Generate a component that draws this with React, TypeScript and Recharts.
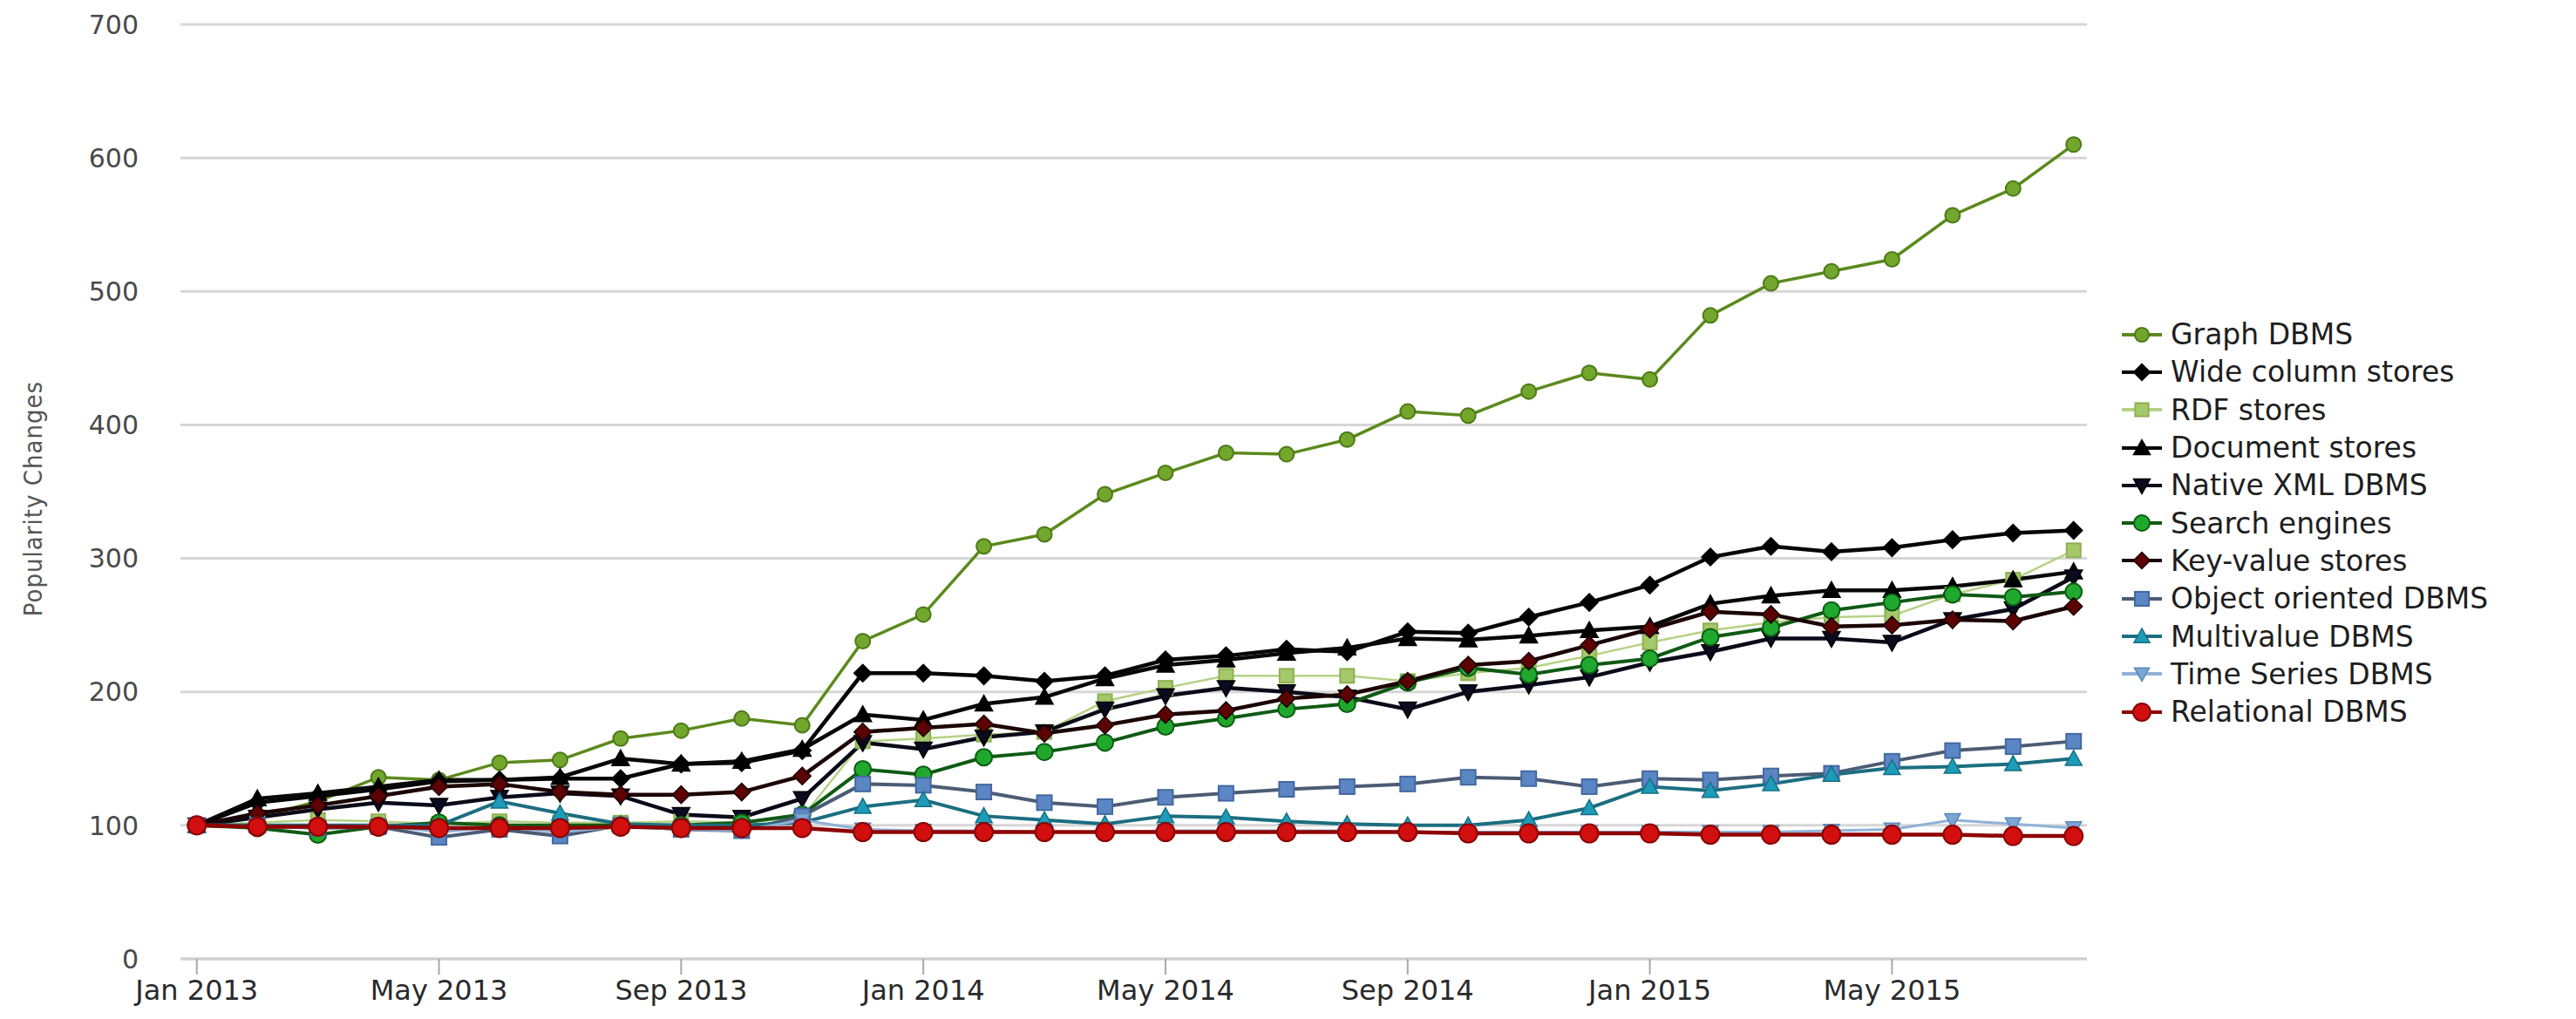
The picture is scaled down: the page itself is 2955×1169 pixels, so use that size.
import React from "react"
import { LineChart, Line, XAxis, YAxis, CartesianGrid, Legend } from "recharts"

const months = [
  "Jan 2013", "Feb 2013", "Mar 2013", "Apr 2013", "May 2013", "Jun 2013", "Jul 2013", "Aug 2013",
  "Sep 2013", "Oct 2013", "Nov 2013", "Dec 2013", "Jan 2014", "Feb 2014", "Mar 2014", "Apr 2014",
  "May 2014", "Jun 2014", "Jul 2014", "Aug 2014", "Sep 2014", "Oct 2014", "Nov 2014", "Dec 2014",
  "Jan 2015", "Feb 2015", "Mar 2015", "Apr 2015", "May 2015", "Jun 2015", "Jul 2015", "Aug 2015",
]

const graphDbms = [100, 106, 118, 136, 134, 147, 149, 165, 171, 180, 175, 238, 258, 309, 318, 348, 364, 379, 378, 389, 410, 407, 425, 439, 434, 482, 506, 515, 524, 557, 577, 610]
const wideColumn = [100, 117, 122, 127, 133, 134, 135, 135, 146, 147, 156, 214, 214, 212, 208, 212, 224, 227, 232, 230, 245, 244, 256, 267, 280, 301, 309, 305, 308, 314, 319, 321]
const rdfStores = [100, 102, 104, 103, 101, 103, 102, 102, 103, 102, 106, 163, 165, 168, 170, 193, 203, 212, 212, 212, 208, 214, 218, 227, 237, 246, 252, 256, 257, 273, 284, 306]
const documentStores = [100, 120, 124, 129, 134, 134, 136, 150, 146, 148, 157, 183, 179, 191, 196, 210, 220, 224, 229, 233, 240, 239, 242, 246, 249, 266, 272, 276, 276, 279, 284, 290]
const nativeXml = [100, 106, 112, 117, 115, 121, 124, 122, 108, 106, 120, 162, 157, 166, 170, 187, 197, 203, 200, 196, 187, 200, 205, 211, 222, 230, 240, 240, 237, 254, 262, 286]
const searchEngines = [100, 98, 93, 99, 102, 100, 100, 100, 100, 102, 108, 142, 138, 151, 155, 162, 174, 180, 187, 191, 207, 218, 213, 220, 225, 241, 248, 261, 267, 273, 271, 275]
const keyValue = [100, 109, 115, 122, 129, 131, 125, 123, 123, 125, 137, 170, 173, 176, 169, 175, 183, 186, 195, 198, 208, 220, 223, 235, 247, 260, 258, 249, 250, 254, 253, 264]
const objectOriented = [100, 100, 98, 99, 91, 97, 92, 100, 97, 96, 107, 131, 130, 125, 117, 114, 121, 124, 127, 129, 131, 136, 135, 129, 135, 134, 137, 139, 148, 156, 159, 163]
const multivalue = [100, 100, 100, 100, 100, 118, 109, 101, 100, 100, 102, 114, 119, 107, 104, 101, 107, 106, 103, 101, 100, 100, 104, 113, 129, 126, 131, 138, 143, 144, 146, 150]
const timeSeries = [100, 99, 98, 100, 95, 99, 95, 99, 97, 96, 104, 97, 96, 96, 95, 95, 96, 96, 96, 96, 95, 95, 95, 95, 95, 95, 95, 96, 97, 104, 101, 98]
const relational = [100, 99, 99, 99, 98, 98, 98, 99, 98, 98, 98, 95, 95, 95, 95, 95, 95, 95, 95, 95, 95, 94, 94, 94, 94, 93, 93, 93, 93, 93, 92, 92]

const xTicks = [0, 4, 8, 12, 16, 20, 24, 28]
const yTicks = [0, 100, 200, 300, 400, 500, 600, 700]

type Shape = "circle" | "diamond" | "square" | "triangle" | "triangleDown"

interface SeriesDef {
  key: string
  name: string
  values: number[]
  line: string
  lineWidth: number
  fill: string
  edge: string
  shape: Shape
  size: number
}

const series: SeriesDef[] = [
  { key: "graph", name: "Graph DBMS", values: graphDbms, line: "#5b8a1c", lineWidth: 3.5, fill: "#72a62c", edge: "#4d7a18", shape: "circle", size: 8.5 },
  { key: "wide", name: "Wide column stores", values: wideColumn, line: "#050505", lineWidth: 4.5, fill: "#000000", edge: "#000000", shape: "diamond", size: 10 },
  { key: "rdf", name: "RDF stores", values: rdfStores, line: "#b5d284", lineWidth: 2.5, fill: "#a4c86a", edge: "#8cb152", shape: "square", size: 8 },
  { key: "document", name: "Document stores", values: documentStores, line: "#080808", lineWidth: 4.5, fill: "#000000", edge: "#000000", shape: "triangle", size: 10 },
  { key: "xml", name: "Native XML DBMS", values: nativeXml, line: "#0a0a18", lineWidth: 4.5, fill: "#0a0a20", edge: "#000000", shape: "triangleDown", size: 10 },
  { key: "search", name: "Search engines", values: searchEngines, line: "#0f5a14", lineWidth: 4, fill: "#20a82e", edge: "#0c5c12", shape: "circle", size: 9.5 },
  { key: "kv", name: "Key-value stores", values: keyValue, line: "#1c0404", lineWidth: 4.5, fill: "#5c0202", edge: "#1a0000", shape: "diamond", size: 10 },
  { key: "oo", name: "Object oriented DBMS", values: objectOriented, line: "#4b5c74", lineWidth: 4, fill: "#5b86c4", edge: "#4469a0", shape: "square", size: 8.5 },
  { key: "multi", name: "Multivalue DBMS", values: multivalue, line: "#1b6e80", lineWidth: 4, fill: "#1d9bb8", edge: "#137086", shape: "triangle", size: 9.5 },
  { key: "ts", name: "Time Series DBMS", values: timeSeries, line: "#8fb2d8", lineWidth: 3, fill: "#7aa6d6", edge: "#5d88b8", shape: "triangleDown", size: 9 },
  { key: "rel", name: "Relational DBMS", values: relational, line: "#8e0000", lineWidth: 4.5, fill: "#d20f0f", edge: "#8a0000", shape: "circle", size: 10.5 },
]

const data = months.map((m, i) => {
  const row: Record<string, number | string> = { idx: i, month: m }
  series.forEach((s) => {
    row[s.key] = s.values[i]
  })
  return row
})

function Marker({ shape, x, y, size, fill, edge }: { shape: Shape; x: number; y: number; size: number; fill: string; edge: string }) {
  const s = size
  if (shape === "circle") {
    return <circle cx={x} cy={y} r={s} fill={fill} stroke={edge} strokeWidth={2} />
  }
  if (shape === "square") {
    return <rect x={x - s} y={y - s} width={s * 2} height={s * 2} fill={fill} stroke={edge} strokeWidth={2} />
  }
  if (shape === "diamond") {
    return <polygon points={`${x},${y - s} ${x + s},${y} ${x},${y + s} ${x - s},${y}`} fill={fill} stroke={edge} strokeWidth={1.5} />
  }
  if (shape === "triangle") {
    return <polygon points={`${x},${y - s} ${x + s},${y + s * 0.8} ${x - s},${y + s * 0.8}`} fill={fill} stroke={edge} strokeWidth={1.5} />
  }
  return <polygon points={`${x - s},${y - s * 0.8} ${x + s},${y - s * 0.8} ${x},${y + s}`} fill={fill} stroke={edge} strokeWidth={1.5} />
}

const makeDot = (s: SeriesDef) => (props: any) => {
  const { cx, cy, index } = props
  if (cx == null || cy == null) return <g key={`${s.key}-${index}`} />
  return (
    <g key={`${s.key}-${index}`}>
      <Marker shape={s.shape} x={cx} y={cy} size={s.size} fill={s.fill} edge={s.edge} />
    </g>
  )
}

function LegendBox() {
  return (
    <div style={{ fontFamily: "DejaVu Sans, Verdana, sans-serif", textAlign: "left" }}>
      {series.map((s) => (
        <div key={s.key} style={{ display: "flex", alignItems: "center", height: 43.3 }}>
          <svg width={50} height={40} style={{ flex: "none" }}>
            <line x1={2} y1={20} x2={48} y2={20} stroke={s.line} strokeWidth={4} />
            <Marker shape={s.shape} x={25} y={20} size={s.size * 0.95} fill={s.fill} edge={s.edge} />
          </svg>
          <span style={{ marginLeft: 8, fontSize: 33, color: "#1e1e1e", whiteSpace: "nowrap", lineHeight: 1 }}>{s.name}</span>
        </div>
      ))}
    </div>
  )
}

export default function App() {
  return (
    <div style={{ position: "absolute", left: 0, top: 0, width: 2955, height: 1169, background: "#fff" }}>
      <LineChart
        width={2955}
        height={1169}
        data={data}
        margin={{ top: 28, right: 561, bottom: 0, left: 0 }}
        style={{ fontFamily: "DejaVu Sans, Verdana, sans-serif" }}
      >
        <CartesianGrid vertical={false} stroke="#d6d6d6" strokeWidth={3} />
        <XAxis
          type="number"
          dataKey="idx"
          domain={[-0.27, 31.22]}
          allowDataOverflow
          ticks={xTicks}
          tickFormatter={(v: number) => months[v]}
          height={69}
          axisLine={{ stroke: "#cfcfcf", strokeWidth: 3 }}
          tickLine={{ stroke: "#a8a8a8", strokeWidth: 2 }}
          tickSize={18}
          tickMargin={6}
          tick={{ fontSize: 32, fill: "#2a2a2a" }}
        />
        <YAxis
          type="number"
          domain={[0, 700]}
          ticks={yTicks}
          width={207}
          axisLine={false}
          tickLine={false}
          tickSize={0}
          tickMargin={48}
          tick={{ fontSize: 30, fill: "#4a4a4a" }}
        />
        <Legend
          layout="horizontal"
          verticalAlign="middle"
          align="center"
          wrapperStyle={{ position: "absolute", left: 2432, top: 362, width: 520 }}
          content={() => <LegendBox />}
        />
        {series.map((s) => (
          <Line
            key={s.key}
            type="linear"
            dataKey={s.key}
            name={s.name}
            stroke={s.line}
            strokeWidth={s.lineWidth}
            dot={makeDot(s)}
            activeDot={false}
            isAnimationActive={false}
          />
        ))}
        <text
          x={38}
          y={572}
          transform="rotate(-90 38 572)"
          textAnchor="middle"
          dominantBaseline="central"
          fontSize={29}
          letterSpacing={1}
          fill="#555"
          style={{ fontFamily: "DejaVu Sans Condensed, DejaVu Sans, sans-serif" }}
        >
          Popularity Changes
        </text>
      </LineChart>
    </div>
  )
}
